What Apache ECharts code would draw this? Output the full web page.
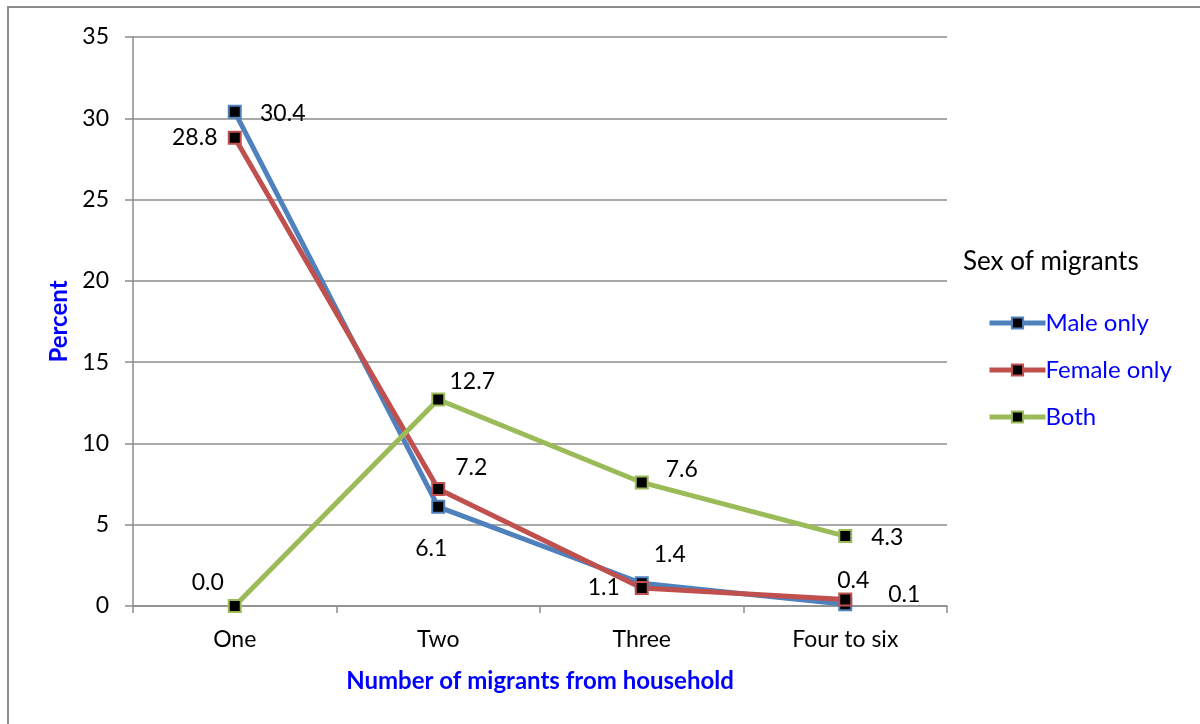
<!DOCTYPE html>
<html><head><meta charset="utf-8">
<script src="https://cdn.jsdelivr.net/npm/echarts@6/dist/echarts.min.js"></script>
<style>html,body{margin:0;padding:0;background:#fff}#c{width:1200px;height:724px}</style>
</head><body><div id="c"></div>
<script>
const categories = ['One', 'Two', 'Three', 'Four to six'];
const maleOnly = [30.4, 6.1, 1.4, 0.1];
const femaleOnly = [28.8, 7.2, 1.1, 0.4];
const both = [0.0, 12.7, 7.6, 4.3];
const yTicks = {min: 0, max: 35, interval: 5};

const maleOffsets = [[48,2],[-7,42],[28,-29],[59,-10]];
const femaleOffsets = [[-40,0],[33,-21],[-38,-1],[8,-19]];
const bothOffsets = [[-27,-23],[34,-18],[40,-13],[42,1]];

const FONT = 'Lato, "Open Sans", sans-serif';

function mk(name, values, offsets, color) {
  return {
    name: name, type: 'line', data: values.map((v, i) => ({
      value: v,
      label: {offset: offsets[i]}
    })),
    symbol: 'rect', symbolSize: 12,
    lineStyle: {color: color, width: 5},
    itemStyle: {color: '#000', borderColor: color, borderWidth: 2},
    label: {show: true, position: 'inside', color: '#000', fontSize: 23, fontFamily: FONT,
      formatter: p => p.value.toFixed(1)},
    emphasis: {disabled: true},
    animation: false
  };
}

const chart = echarts.init(document.getElementById('c'));
chart.setOption({
  backgroundColor: '#fff',
  animation: false,
  graphic: [{type: 'rect', shape: {x: 8, y: 7, width: 1300, height: 800},
    style: {fill: 'none', stroke: '#8c8c8c', lineWidth: 2}, silent: true, z: -1}],
  grid: {left: 133, right: 253, top: 37, bottom: 118},
  legend: {
    orient: 'vertical', left: 982, top: 306, itemGap: 23,
    itemWidth: 56, itemHeight: 14,
    lineStyle: {width: 5},
    textStyle: {color: '#0000ff', fontSize: 24, fontFamily: FONT, padding: [0,0,0,-5]},
    data: ['Male only', 'Female only', 'Both']
  },
  title: {text: 'Sex of migrants', left: 958, top: 244,
    textStyle: {color: '#000', fontSize: 26, fontWeight: 'normal', fontFamily: FONT}},
  xAxis: {
    type: 'category', data: categories, boundaryGap: true,
    name: 'Number of migrants from household', nameLocation: 'middle', nameGap: 63,
    nameTextStyle: {color: '#0000ff', fontWeight: 'bold', fontSize: 24, fontFamily: FONT},
    axisLine: {lineStyle: {color: '#8c8c8c', width: 1.5}},
    axisTick: {show: true, length: 7, lineStyle: {color: '#8c8c8c', width: 1.5}},
    axisLabel: {color: '#000', fontSize: 23, fontFamily: FONT, margin: 22}
  },
  yAxis: {
    type: 'value', min: yTicks.min, max: yTicks.max, interval: yTicks.interval,
    name: 'Percent', nameLocation: 'middle', nameGap: 61,
    nameTextStyle: {color: '#0000ff', fontWeight: 'bold', fontSize: 24, fontFamily: FONT},
    axisLine: {show: true, lineStyle: {color: '#8c8c8c', width: 1.5}},
    axisTick: {show: true, length: 8, lineStyle: {color: '#8c8c8c', width: 1.5}},
    axisLabel: {color: '#000', fontSize: 23, fontFamily: FONT, margin: 24},
    splitLine: {lineStyle: {color: '#8c8c8c', width: 1.5}}
  },
  series: [
    mk('Male only', maleOnly, maleOffsets, '#4f81bd'),
    mk('Female only', femaleOnly, femaleOffsets, '#c0504d'),
    mk('Both', both, bothOffsets, '#9bbb59')
  ]
});
</script></body></html>
